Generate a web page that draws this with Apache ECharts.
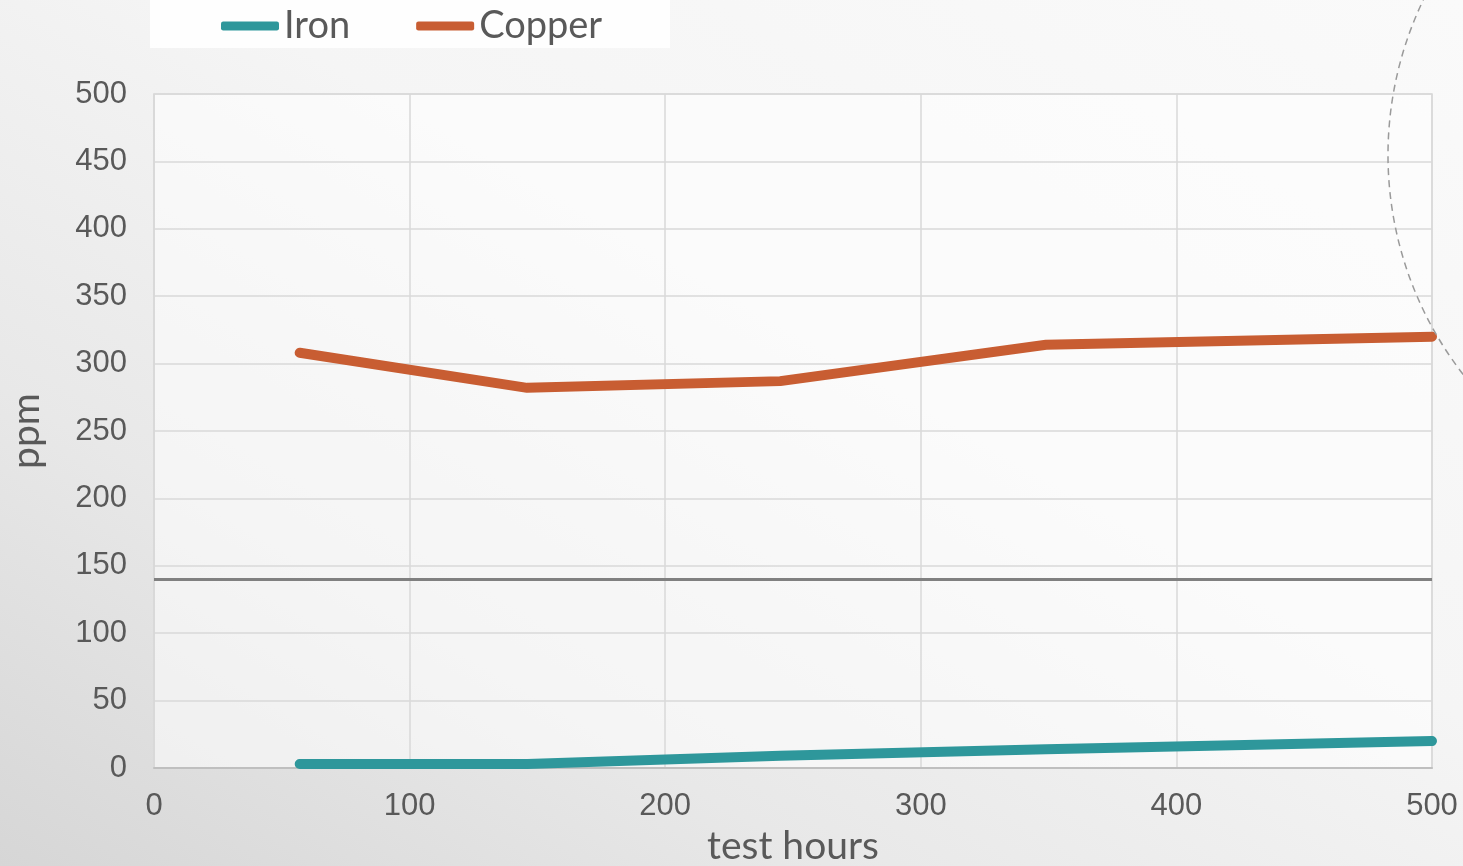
<!DOCTYPE html>
<html>
<head>
<meta charset="utf-8">
<script src="https://cdn.jsdelivr.net/npm/echarts@6/dist/echarts.min.js"></script>
<style>
html,body{margin:0;padding:0;width:1463px;height:866px;overflow:hidden;
background:linear-gradient(30deg,#d6d6d6 0%,#e8e8e8 28%,#f5f5f5 58%,#fafafa 100%);}
#c{width:1463px;height:866px;}
</style>
</head>
<body>
<div id="c"></div>
<script>
const hours = [57, 146, 245, 349, 500];
const iron = [3, 3, 9, 14, 20];
const copper = [308, 282, 287, 314, 320];
const limitValue = 140;
const xTicks = [0, 100, 200, 300, 400, 500];
const yTicks = [0, 50, 100, 150, 200, 250, 300, 350, 400, 450, 500];

const chart = echarts.init(document.getElementById('c'));
const pairs = (xs, ys) => xs.map((x, i) => [x, ys[i]]);
chart.setOption({
  animation: false,
  graphic: [
    { type: 'rect', z: -10, shape: { x: 150, y: 0, width: 520, height: 48 }, style: { fill: 'rgba(255,255,255,0.85)' } },
    { type: 'circle', z: 100, shape: { cx: 1746, cy: 155, r: 358 }, style: { fill: 'none', stroke: '#9a9a9a', lineWidth: 1.5, lineDash: [7, 5] } }
  ],
  legend: {
    left: 216, top: 2,
    itemWidth: 58, itemHeight: 9, itemGap: 66,
    icon: 'roundRect',
    textStyle: { fontFamily: 'Lato', fontSize: 38, color: '#595959' },
    data: ['Iron', 'Copper']
  },
  grid: { left: 154, right: 31, top: 94, bottom: 98, outerBoundsMode: 'none', containLabel: false, show: true, backgroundColor: 'rgba(255,255,255,0.55)', borderColor: '#d9d9d9', borderWidth: 1.5 },
  xAxis: {
    type: 'value', min: xTicks[0], max: xTicks[xTicks.length - 1], interval: 100,
    name: 'test hours', nameLocation: 'middle', nameGap: 59,
    nameTextStyle: { fontFamily: 'Lato', fontSize: 39, color: '#595959' },
    axisLine: { show: true, lineStyle: { color: '#bfbfbf', width: 2 } },
    axisTick: { show: false },
    axisLabel: { fontFamily: 'Liberation Sans', fontSize: 31, color: '#595959', margin: 23 },
    splitLine: { show: true, lineStyle: { color: '#d9d9d9', width: 1.5 } }
  },
  yAxis: {
    type: 'value', min: yTicks[0], max: yTicks[yTicks.length - 1], interval: 50,
    name: 'ppm', nameLocation: 'middle', nameGap: 108, nameRotate: 90,
    nameTextStyle: { fontFamily: 'Lato', fontSize: 39, color: '#595959' },
    axisLine: { show: true, lineStyle: { color: '#d9d9d9', width: 1.5 } },
    axisTick: { show: false },
    axisLabel: { fontFamily: 'Liberation Sans', fontSize: 31, color: '#595959', margin: 27 },
    splitLine: { show: true, lineStyle: { color: '#d9d9d9', width: 1.5 } }
  },
  series: [
    {
      name: 'Iron', type: 'line', data: pairs(hours, iron), showSymbol: false, symbol: 'none',
      color: '#2e979b',
      lineStyle: { width: 10, color: '#2e979b', cap: 'round', join: 'round' },
      markLine: {
        silent: true, symbol: 'none', label: { show: false },
        lineStyle: { color: '#808080', width: 3, type: 'solid' },
        data: [{ yAxis: limitValue }]
      }
    },
    {
      name: 'Copper', type: 'line', data: pairs(hours, copper), showSymbol: false, symbol: 'none',
      color: '#c85d32',
      lineStyle: { width: 10, color: '#c85d32', cap: 'round', join: 'round' }
    }
  ]
});
</script>
</body>
</html>
